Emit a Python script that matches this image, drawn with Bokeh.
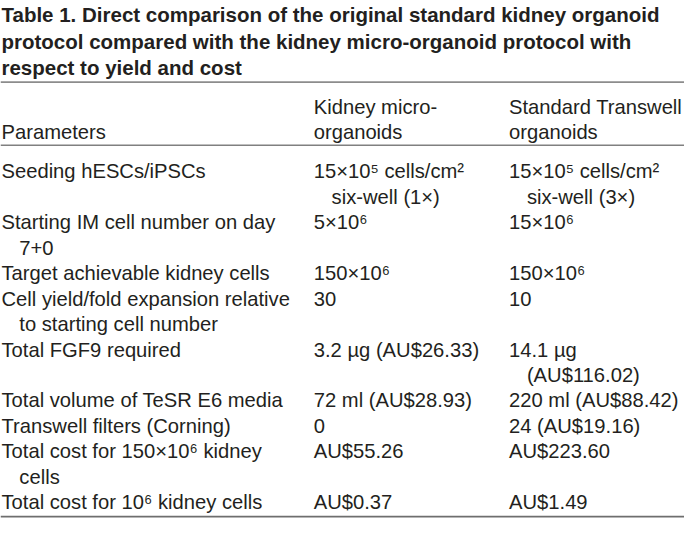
from bokeh.plotting import figure
from bokeh.models import Range1d, Span, ColumnDataSource
from bokeh.core.properties import value
from bokeh.embed import file_html
from bokeh.resources import INLINE

# ---- table content ----
title_lines = [
    "Table 1. Direct comparison of the original standard kidney organoid",
    "protocol compared with the kidney micro-organoid protocol with",
    "respect to yield and cost",
]
header_params = ["Parameters"]
header_micro = ["Kidney micro-", "organoids"]
header_standard = ["Standard Transwell", "organoids"]

parameters = [
    ["Seeding hESCs/iPSCs"],
    ["Starting IM cell number on day", "7+0"],
    ["Target achievable kidney cells"],
    ["Cell yield/fold expansion relative", "to starting cell number"],
    ["Total FGF9 required"],
    ["Total volume of TeSR E6 media"],
    ["Transwell filters (Corning)"],
    ["Total cost for 150×10⁶ kidney", "cells"],
    ["Total cost for 10⁶ kidney cells"],
]
micro = [
    ["15×10⁵ cells/cm²", "six-well (1×)"],
    ["5×10⁶"],
    ["150×10⁶"],
    ["30"],
    ["3.2 µg (AU$26.33)"],
    ["72 ml (AU$28.93)"],
    ["0"],
    ["AU$55.26"],
    ["AU$0.37"],
]
standard = [
    ["15×10⁵ cells/cm²", "six-well (3×)"],
    ["15×10⁶"],
    ["150×10⁶"],
    ["10"],
    ["14.1 µg", "(AU$116.02)"],
    ["220 ml (AU$88.42)"],
    ["24 (AU$19.16)"],
    ["AU$223.60"],
    ["AU$1.49"],
]

# ---- layout (reference pixel space) ----
COL_X = [3, 318, 515]
INDENT = 18
TITLE_Y0, TITLE_DY = 16.7, 27.0
HEAD_LAST_Y, HEAD_DY = 137.0, 25.0
BODY_Y0, BODY_DY = 177.7, 26.2
RULES = [(86, "#8c8c8c"), (151, "#808080"), (533, "#6e6e6e")]
FONT = "Liberation Sans"
COLOR = "#231f20"

p = figure(width=684, height=519, x_range=Range1d(2, 692), y_range=Range1d(536, 2),
           output_backend="svg", toolbar_location=None,
           x_axis_type=None, y_axis_type=None, min_border=0)
p.grid.visible = False
p.outline_line_color = None
p.background_fill_color = "white"
p.border_fill_color = "white"

# title
tx, ty, tt = [], [], []
for i, line in enumerate(title_lines):
    tx.append(COL_X[0]); ty.append(TITLE_Y0 + i * TITLE_DY); tt.append(line)
p.text(x="x", y="y", text="t", source=ColumnDataSource(dict(x=tx, y=ty, t=tt)),
       text_font=value(FONT), text_font_size="20.5px", text_font_style="bold",
       text_color=COLOR, text_baseline="alphabetic", text_align="left")

# header + body
bx, by, bt = [], [], []
for c, cell in enumerate([header_params, header_micro, header_standard]):
    n = len(cell)
    for j, line in enumerate(cell):
        bx.append(COL_X[c]); by.append(HEAD_LAST_Y - (n - 1 - j) * HEAD_DY); bt.append(line)

start = 0
for r in range(len(parameters)):
    cells = [parameters[r], micro[r], standard[r]]
    for c, cell in enumerate(cells):
        for j, line in enumerate(cell):
            bx.append(COL_X[c] + (INDENT if j > 0 else 0))
            by.append(BODY_Y0 + (start + j) * BODY_DY)
            bt.append(line)
    start += max(len(x) for x in cells)

p.text(x="x", y="y", text="t", source=ColumnDataSource(dict(x=bx, y=by, t=bt)),
       text_font=value(FONT), text_font_size="20.2px",
       text_color=COLOR, text_baseline="alphabetic", text_align="left")

for yv, col in RULES:
    p.add_layout(Span(location=yv, dimension="width", line_color=col, line_width=1.6))

open("out.html", "w").write(file_html(p, INLINE))
